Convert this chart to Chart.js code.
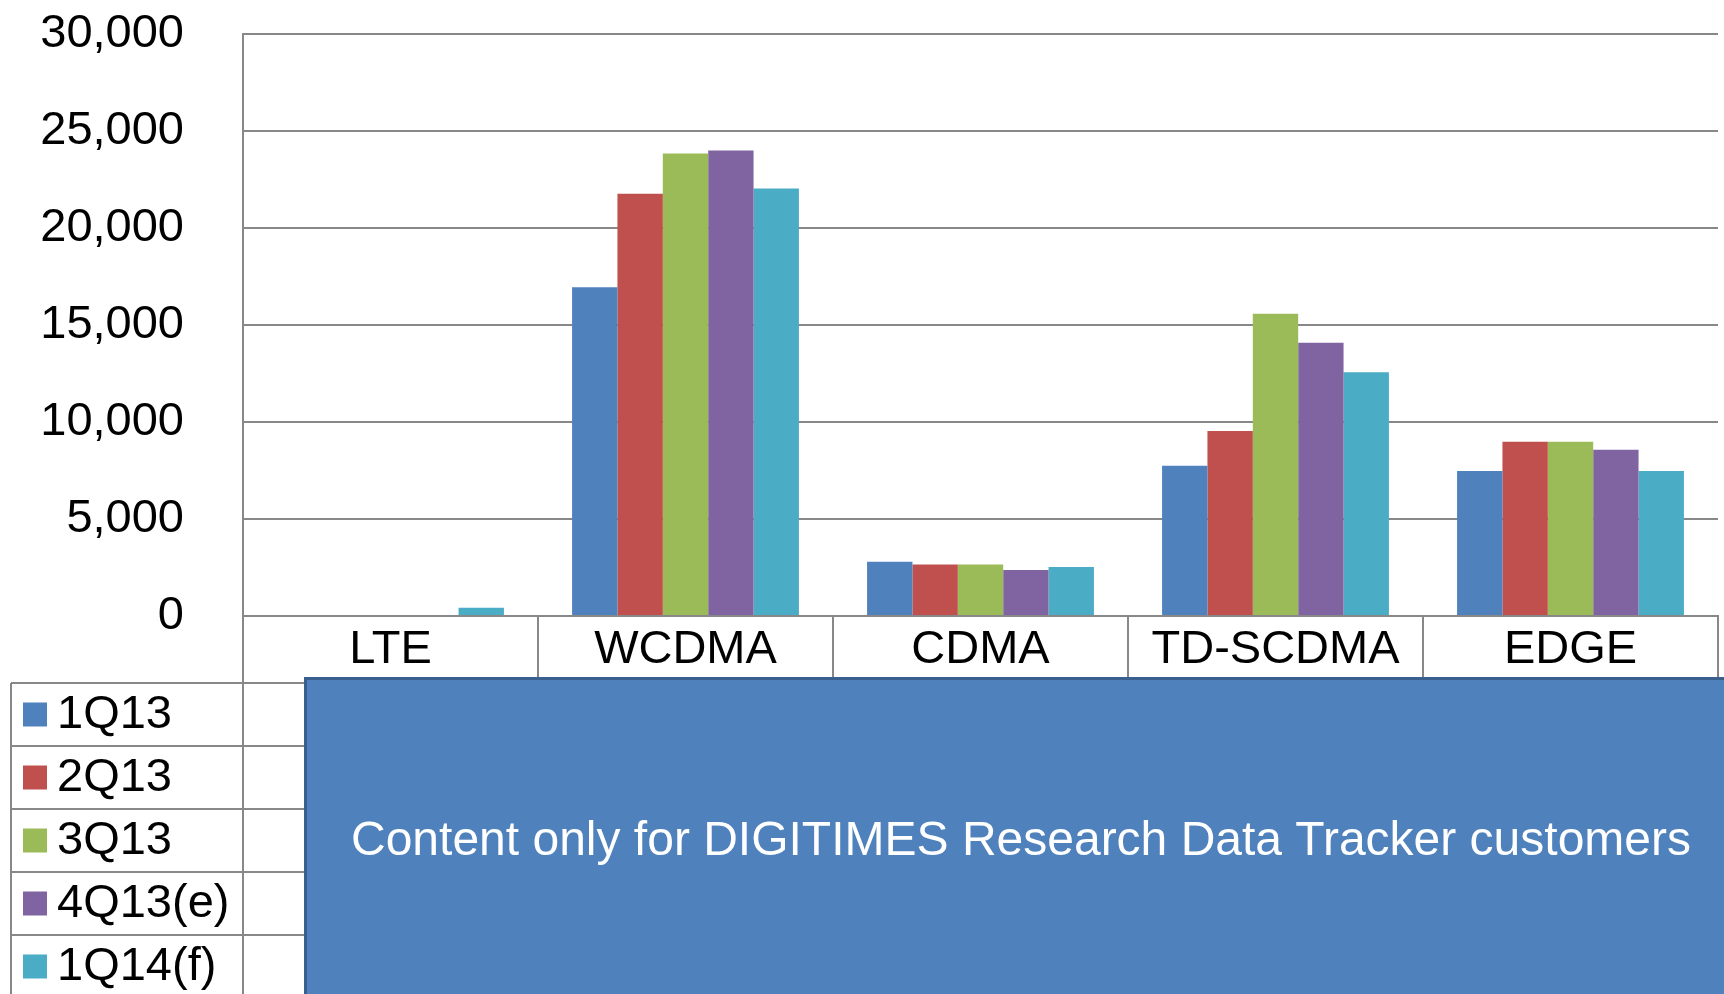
<!DOCTYPE html>
<html><head><meta charset="utf-8">
<style>html,body{margin:0;padding:0;background:#fff;overflow:hidden}#wrap{position:relative;width:1724px;height:994px}</style>
<script src="https://cdn.jsdelivr.net/npm/chart.js@4.4.1/dist/chart.umd.min.js"></script>
</head><body><div id="wrap"><canvas id="c" width="1724" height="994"></canvas></div>
<script>
const categories = ['LTE', 'WCDMA', 'CDMA', 'TD-SCDMA', 'EDGE'];
const seriesNames = ['1Q13', '2Q13', '3Q13', '4Q13(e)', '1Q14(f)'];
const q1_13  = [0,   16950, 2790, 7740,  7470];
const q2_13  = [0,   21770, 2650, 9530,  8980];
const q3_13  = [0,   23840, 2650, 15580, 8980];
const q4_13e = [0,   24000, 2370, 14090, 8570];
const q1_14f = [430, 22040, 2530, 12560, 7470];
const seriesColors = ['#4F81BD', '#C0504D', '#9BBB59', '#8064A2', '#4BACC6'];
const yMin = 0, yMax = 30000, yStep = 5000;
const overlayText = 'Content only for DIGITIMES Research Data Tracker customers';

const FONT = '"Liberation Sans", Arial, Helvetica, sans-serif';
const GRID = '#888888';
const seriesValues = [q1_13, q2_13, q3_13, q4_13e, q1_14f];

const tablePlugin = {
  id: 'tablePlugin',
  afterDraw(chart) {
    const ctx = chart.ctx;
    const ca = chart.chartArea;
    ctx.save();
    ctx.strokeStyle = GRID;
    ctx.lineWidth = 2;
    ctx.beginPath();
    ctx.moveTo(ca.left, ca.bottom);
    ctx.lineTo(ca.left, 994);
    ctx.stroke();
    const legLeft = 11, rowTop0 = 683, rowH = 63;
    ctx.beginPath();
    ctx.moveTo(legLeft, rowTop0);
    ctx.lineTo(legLeft, 994);
    ctx.stroke();
    ctx.beginPath();
    ctx.moveTo(legLeft, rowTop0);
    ctx.lineTo(1724, rowTop0);
    ctx.stroke();
    for (let i = 1; i <= seriesNames.length; i++) {
      const y = rowTop0 + i * rowH;
      ctx.beginPath();
      ctx.moveTo(legLeft, y);
      ctx.lineTo(330, y);
      ctx.stroke();
    }
    ctx.font = '47px ' + FONT;
    ctx.textBaseline = 'middle';
    ctx.textAlign = 'left';
    chart.data.datasets.forEach((ds, i) => {
      const cy = rowTop0 + i * rowH + rowH / 2;
      ctx.fillStyle = ds.backgroundColor;
      ctx.fillRect(23, cy - 12, 24, 24);
      ctx.fillStyle = '#000';
      ctx.fillText(ds.label, 57, cy + 1);
    });
    const bx = 304, by = 677;
    ctx.fillStyle = '#4F81BD';
    ctx.fillRect(bx, by, 1724 - bx + 10, 994 - by + 10);
    ctx.strokeStyle = '#3A5F8C';
    ctx.lineWidth = 3;
    ctx.strokeRect(bx + 1.5, by + 1.5, 1724 - bx + 20, 994 - by + 20);
    ctx.fillStyle = '#FFFFFF';
    ctx.font = '48px ' + FONT;
    ctx.textAlign = 'center';
    ctx.textBaseline = 'middle';
    ctx.fillText(overlayText, 1021, 842);
    ctx.restore();
  }
};

new Chart(document.getElementById('c'), {
  type: 'bar',
  data: {
    labels: categories,
    datasets: seriesNames.map((n, i) => ({
      label: n,
      data: seriesValues[i],
      backgroundColor: seriesColors[i],
      borderWidth: 0,
      categoryPercentage: 0.769,
      barPercentage: 1.0
    }))
  },
  options: {
    responsive: false,
    devicePixelRatio: 1,
    animation: false,
    layout: { padding: { left: 0, top: 34, right: 6, bottom: 994 - 616 - 67 } },
    plugins: { legend: { display: false }, tooltip: { enabled: false } },
    scales: {
      x: {
        afterFit(s) { s.height = 67; s.paddingLeft = 0; s.paddingRight = 0; },
        grid: { offset: true, drawOnChartArea: false, drawTicks: true, tickLength: 67, color: GRID, lineWidth: 2 },
        border: { display: true, color: GRID, width: 2 },
        ticks: { color: '#000', font: { family: FONT, size: 47 }, padding: -61, maxRotation: 0, autoSkip: false }
      },
      y: {
        min: yMin, max: yMax,
        afterFit(s) { s.width = 243; s.paddingTop = 0; s.paddingBottom = 0; },
        grid: { color: GRID, lineWidth: 2, drawTicks: false },
        border: { display: true, color: GRID, width: 2 },
        ticks: {
          stepSize: yStep, color: '#000', padding: 59,
          font: { family: FONT, size: 47 },
          callback: v => v.toLocaleString('en-US')
        }
      }
    }
  },
  plugins: [tablePlugin]
});
</script></body></html>
